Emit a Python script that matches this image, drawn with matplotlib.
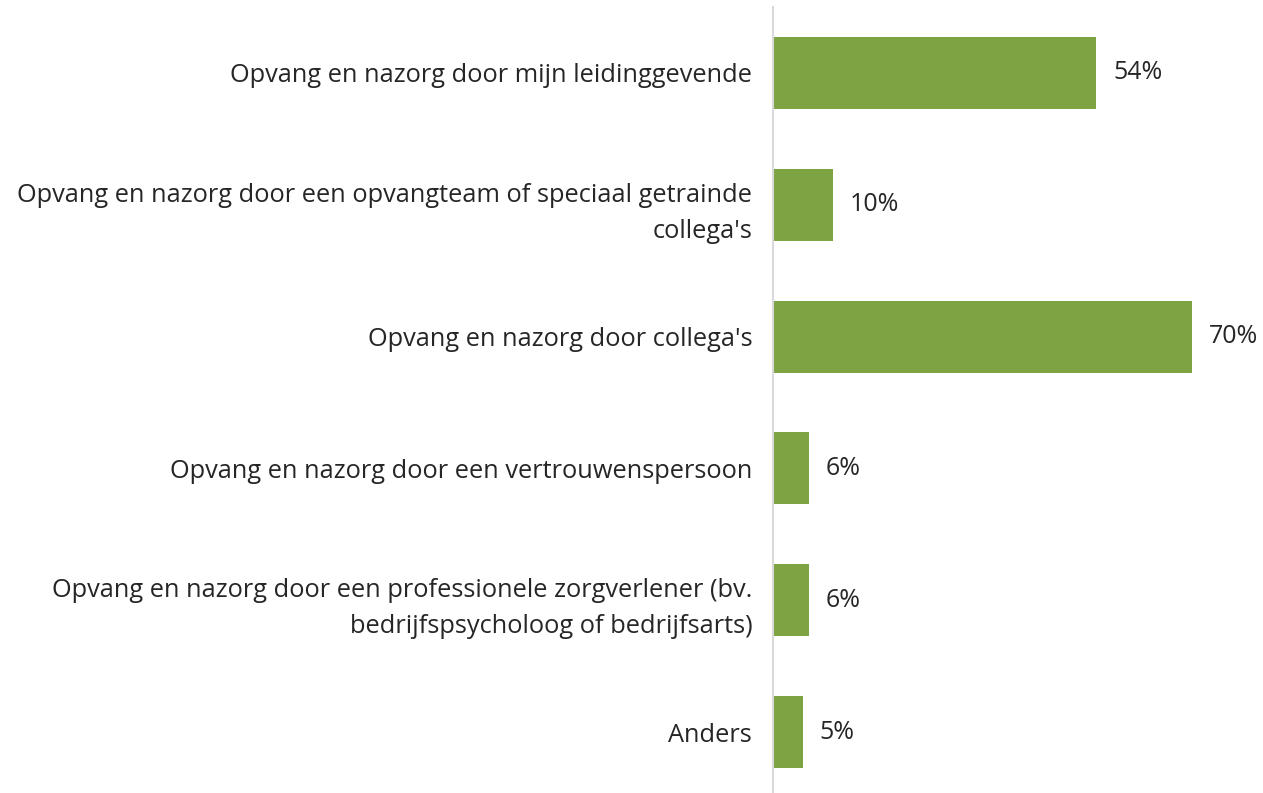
import matplotlib
matplotlib.use("Agg")
import matplotlib.pyplot as plt

categories = [
    "Opvang en nazorg door mijn leidinggevende",
    "Opvang en nazorg door een opvangteam of speciaal getrainde\ncollega's",
    "Opvang en nazorg door collega's",
    "Opvang en nazorg door een vertrouwenspersoon",
    "Opvang en nazorg door een professionele zorgverlener (bv.\nbedrijfspsycholoog of bedrijfsarts)",
    "Anders",
]
values = [54, 10, 70, 6, 6, 5]
value_labels = ["54%", "10%", "70%", "6%", "6%", "5%"]

plt.rcParams["font.family"] = ["Open Sans", "DejaVu Sans"]

W, H = 1263, 793
fig = plt.figure(figsize=(W / 100, H / 100), dpi=100)
left = 773 / W
ax = fig.add_axes([left, -5 / H, 479 / W, 791 / H])

bar_color = "#7EA342"
text_color = "#262626"

y = list(range(len(categories)))
ax.barh(y, values, height=0.546, color=bar_color, zorder=2)
ax.set_xlim(0, 80)
ax.set_ylim(len(categories) - 0.5, -0.5)

for yi, v, lab in zip(y, values, value_labels):
    ax.annotate(lab, (v, yi), xytext=(12, 0), textcoords="offset points",
                ha="left", va="center", fontsize=18, color=text_color)

ax.set_yticks(y)
ax.set_yticklabels(categories, fontsize=18.3, color=text_color, linespacing=1.58)
ax.tick_params(axis="y", length=0, pad=15)
ax.set_xticks([])
for s in ["top", "right", "bottom"]:
    ax.spines[s].set_visible(False)
ax.spines["left"].set_color("#d9d9d9")
ax.spines["left"].set_linewidth(1.5)

fig.savefig("out.png", dpi=100, facecolor="white")
